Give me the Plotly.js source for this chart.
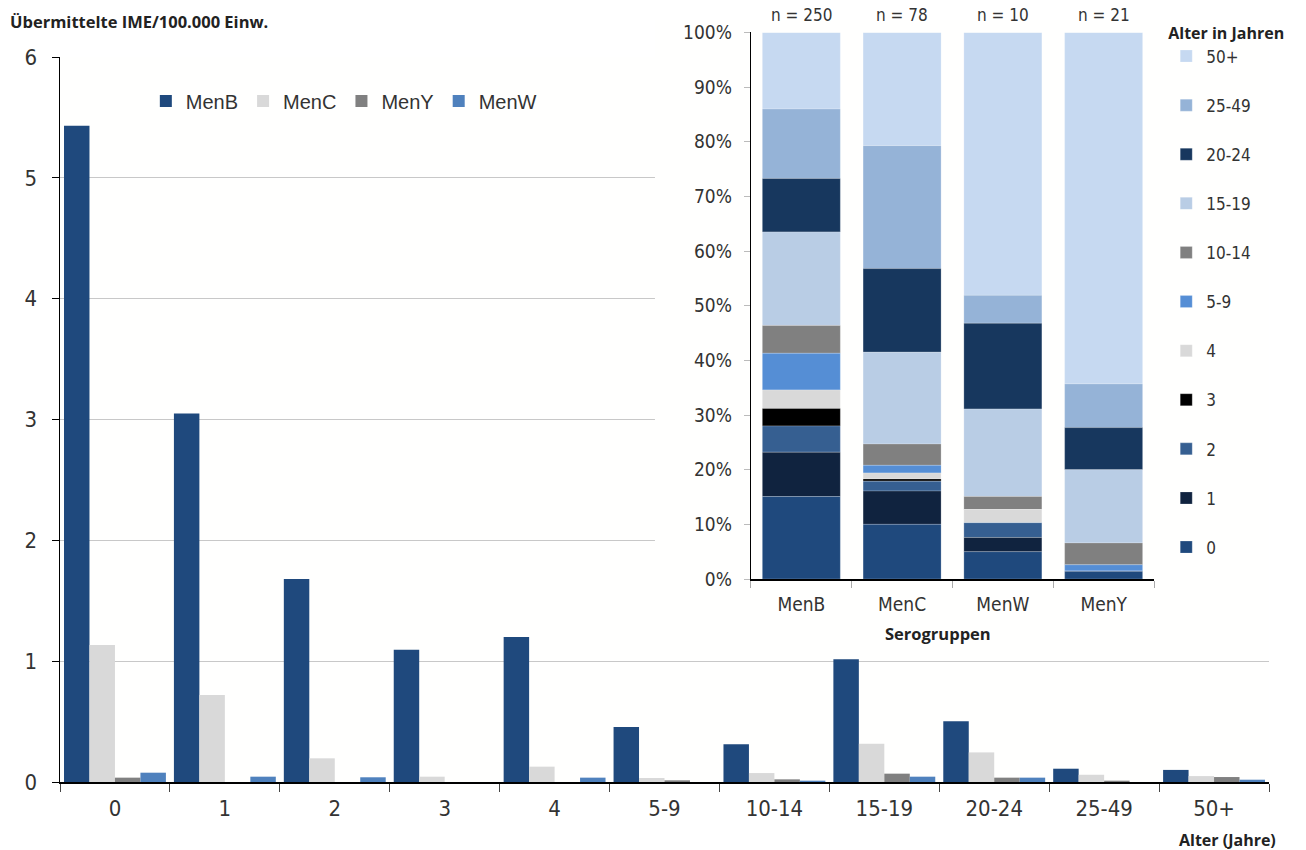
<!DOCTYPE html>
<html><head><meta charset="utf-8">
<script src="https://cdn.plot.ly/plotly-3.0.1.min.js"></script>
<style>html,body{margin:0;padding:0;background:#fff}#chart{width:1306px;height:850px}</style>
</head><body><div id="chart"></div>
<script>
// ---- main chart data (Übermittelte IME/100.000 Einw.) ----
const ageGroups = ['0','1','2','3','4','5-9','10-14','15-19','20-24','25-49','50+'];
const menB = [5.43, 3.05, 1.68, 1.095, 1.20, 0.455, 0.313, 1.016, 0.503, 0.11, 0.10];
const menC = [1.134, 0.72, 0.196, 0.044, 0.127, 0.033, 0.074, 0.316, 0.245, 0.06, 0.049];
const menY = [0.036, 0, 0, 0, 0, 0.014, 0.022, 0.069, 0.036, 0.011, 0.041];
const menW = [0.077, 0.044, 0.039, 0, 0.036, 0, 0.011, 0.044, 0.036, 0, 0.019];

// ---- inset data (share of age groups per serogroup, %) ----
const serogroups = ['MenB','MenC','MenW','MenY'];
const nLabels = ['n = 250','n = 78','n = 10','n = 21'];
const insetAgeLabels = ['0','1','2','3','4','5-9','10-14','15-19','20-24','25-49','50+'];
const share0 = [15.1, 10.0, 5.0, 1.4];
const share1 = [8.1, 6.1, 2.6, 0];
const share2 = [4.8, 1.8, 2.7, 0];
const share3 = [3.2, 0.4, 0, 0];
const share4 = [3.4, 1.1, 2.4, 0];
const share5to9 = [6.7, 1.4, 0, 1.2];
const share10to14 = [5.1, 3.9, 2.4, 4.0];
const share15to19 = [17.1, 16.8, 16.0, 13.4];
const share20to24 = [9.8, 15.3, 15.7, 7.7];
const share25to49 = [12.7, 22.5, 5.1, 8.0];
const share50plus = [14.0, 20.7, 48.1, 64.3];
const insetShares = [share0, share1, share2, share3, share4, share5to9, share10to14, share15to19, share20to24, share25to49, share50plus];

// ---- styles ----
const NARROW = '"Liberation Sans Narrow", "DejaVu Sans Condensed", "Roboto Condensed", sans-serif';
const SANS = '"Liberation Sans", Arial, sans-serif';
const BOLD = '"Open Sans", "Liberation Sans", sans-serif';
const mainColors = {B:'#1f497d', C:'#d9d9d9', Y:'#808080', W:'#4f81bd'};
const insetColors = ['#1f497d','#10233f','#365f91','#000000','#d9d9d9','#558ed5','#808080','#b9cde5','#17375e','#95b3d7','#c6d9f1'];

const traces = [];
[['MenB', menB, mainColors.B], ['MenC', menC, mainColors.C], ['MenY', menY, mainColors.Y], ['MenW', menW, mainColors.W]].forEach(([name, vals, col]) => {
  traces.push({type:'bar', name:name, x:ageGroups, y:vals, xaxis:'x', yaxis:'y',
    marker:{color:col, line:{width:0}}, legend:'legend', hoverinfo:'skip'});
});

// cover subplot (white background hides main gridlines behind the inset)
traces.push({type:'scatter', x:[], y:[], xaxis:'x2', yaxis:'y2', showlegend:false, hoverinfo:'skip'});

// inset stacked bars (stacked via cumulative base); added in reverse so legend lists 50+ first
const bases = [];
const running = serogroups.map(() => 0);
insetShares.forEach((vals) => {
  bases.push(running.slice());
  vals.forEach((v, k) => { running[k] += v; });
});
for (let i = insetShares.length - 1; i >= 0; i--) {
  traces.push({type:'bar', name:insetAgeLabels[i], x:serogroups, y:insetShares[i], base:bases[i],
    xaxis:'x3', yaxis:'y3', offsetgroup:'inset', width:0.774, offset:-0.387,
    marker:{color:insetColors[i], line:{width:0.6, color:'rgba(255,255,255,0.35)'}},
    legend:'legend2', legendgroup:'g'+i, hoverinfo:'skip'});
}

const annotations = serogroups.map((s, i) => ({
  xref:'x3', x:s, yref:'y3 domain', y:1, yanchor:'bottom', xanchor:'center', yshift:5,
  text:nLabels[i], showarrow:false, font:{family:NARROW, size:17, color:'#333'}
}));
annotations.push({xref:'paper', yref:'paper', x:-0.043, y:0.9974, xanchor:'left', yanchor:'middle',
  text:'<b>Übermittelte IME/100.000 Einw.</b>', showarrow:false, font:{family:BOLD, size:16.5, color:'#222'}});
annotations.push({xref:'paper', yref:'paper', x:1.0074, y:-0.076, xanchor:'right', yanchor:'middle',
  text:'<b>Alter (Jahre)</b>', showarrow:false, font:{family:BOLD, size:16, color:'#222'}});
annotations.push({xref:'paper', yref:'paper', x:0.7262, y:0.1955, xanchor:'center', yanchor:'middle',
  text:'<b>Serogruppen</b>', showarrow:false, font:{family:BOLD, size:16.5, color:'#222'}});

const layout = {
  width:1306, height:850,
  margin:{l:60, r:37, t:20, b:68},
  paper_bgcolor:'#ffffff', plot_bgcolor:'#fffffe',
  barmode:'group', bargap:0.073, bargroupgap:0,
  showlegend:true,
  hovermode:false,
  xaxis:{type:'category', domain:[0,1], anchor:'y', showline:true, linecolor:'#000', linewidth:1.5,
    ticks:'outside', tickson:'boundaries', ticklen:8, tickcolor:'#444', tickwidth:1, ticklabelstandoff:6,
    tickfont:{family:NARROW, size:22, color:'#333'}, showgrid:false, zeroline:false},
  yaxis:{domain:[0,0.95144], anchor:'x', range:[0,6], dtick:1, showline:true, linecolor:'#000', linewidth:1.5,
    ticks:'outside', ticklen:7, tickcolor:'#000', ticklabelstandoff:10,
    tickfont:{family:NARROW, size:22, color:'#333'}, showgrid:true, gridcolor:'#c8c8c8', gridwidth:1, zeroline:false},
  xaxis2:{domain:[0.4921,1], anchor:'y2', visible:false},
  yaxis2:{domain:[0.2126,1], anchor:'x2', visible:false},
  xaxis3:{type:'category', domain:[0.5715,0.9049], anchor:'y3', showline:true, linecolor:'#000', linewidth:1.5,
    ticks:'outside', tickson:'boundaries', ticklen:7, tickcolor:'#aaa', ticklabelstandoff:8,
    tickfont:{family:NARROW, size:19, color:'#333'}, showgrid:false, zeroline:false},
  yaxis3:{domain:[0.2664,0.9836], anchor:'x3', range:[0,100], dtick:10, ticksuffix:'%',
    showline:true, linecolor:'#000', linewidth:1.2, ticks:'outside', ticklen:6, tickcolor:'#bbb',
    ticklabelstandoff:8, tickfont:{family:NARROW, size:19, color:'#333'}, showgrid:false, zeroline:false},
  legend:{orientation:'h', x:0.071, xanchor:'left', y:0.8937, yanchor:'middle',
    font:{family:SANS, size:20, color:'#333'}, bgcolor:'rgba(0,0,0,0)', traceorder:'normal'},
  legend2:{orientation:'v', x:0.915, xanchor:'left', y:1.003, yanchor:'top', maxheight:800,
    title:{text:'<b>Alter in Jahren</b>', side:'top', font:{family:BOLD, size:16, color:'#222'}},
    traceorder:'grouped', tracegroupgap:24,
    font:{family:NARROW, size:17, color:'#333'}, bgcolor:'rgba(0,0,0,0)'},
  annotations:annotations
};

Plotly.newPlot('chart', traces, layout, {staticPlot:true, displayModeBar:false});
</script>
</body></html>
